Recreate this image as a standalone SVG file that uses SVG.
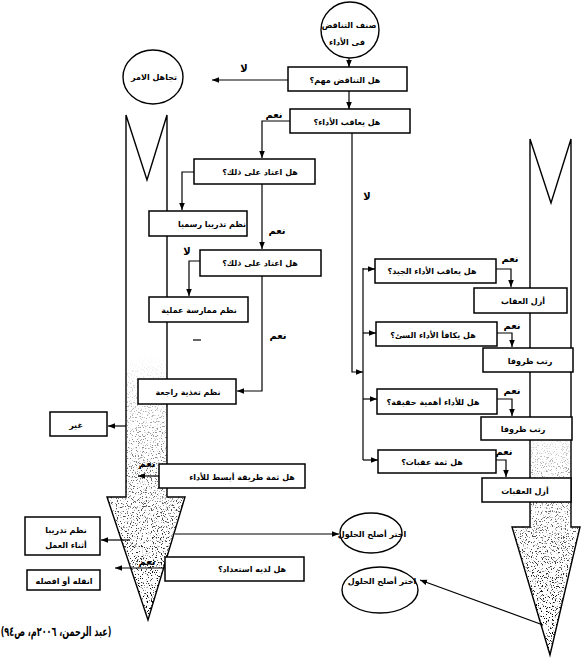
<svg xmlns="http://www.w3.org/2000/svg" width="582" height="659" viewBox="0 0 582 659">
<style>
.t{font-family:"DejaVu Sans",sans-serif;font-size:8px;font-weight:bold;direction:rtl;unicode-bidi:embed;text-anchor:middle;fill:#000}
.lb{font-family:"DejaVu Sans",sans-serif;font-size:10px;font-weight:bold;direction:rtl;unicode-bidi:embed;text-anchor:middle;fill:#000}
.box{fill:#fff;stroke:#000;stroke-width:1.5}
.sh{fill:#fff;stroke:#000;stroke-width:1.4;stroke-linejoin:miter}
.c{fill:none;stroke:#000;stroke-width:1.2}
.ca{fill:none;stroke:#000;stroke-width:1.2;marker-end:url(#ah)}
</style>
<defs>
<marker id="ah" viewBox="0 0 10 10" refX="10" refY="5" markerWidth="7" markerHeight="7" orient="auto" markerUnits="userSpaceOnUse"><path d="M0,1 L10,5 L0,9 Z" fill="#000"/></marker>
<filter id="noise" x="0" y="0" width="1" height="1">
<feTurbulence type="fractalNoise" baseFrequency="0.8" numOctaves="2" seed="7"/>
<feColorMatrix type="matrix" values="0 0 0 0 0  0 0 0 0 0  0 0 0 0 0  10 0 0 0 -5.8"/>
</filter>
<linearGradient id="gL" gradientUnits="userSpaceOnUse" x1="0" y1="355" x2="0" y2="600"><stop offset="0" stop-color="#000"/><stop offset="0.3" stop-color="#666"/><stop offset="1" stop-color="#fff"/></linearGradient>
<linearGradient id="gR" gradientUnits="userSpaceOnUse" x1="0" y1="425" x2="0" y2="620"><stop offset="0" stop-color="#000"/><stop offset="0.3" stop-color="#777"/><stop offset="1" stop-color="#fff"/></linearGradient>
<mask id="mL"><path d="M126,115 L147,180 L167,115 L167,497 L185,497 L148,620 L107,497 L126,497 Z" fill="url(#gL)"/></mask>
<mask id="mR"><path d="M530,139 L551,203 L571,139 L571,527 L580,527 L550,655 L512,527 L530,527 Z" fill="url(#gR)"/></mask>
</defs>
<rect width="582" height="659" fill="#fff"/>

<g id="left-arrow">
<path class="sh" d="M126,115 L147,180 L167,115 L167,497 L185,497 L148,620 L107,497 L126,497 Z"/>
<rect x="100" y="350" width="90" height="275" filter="url(#noise)" mask="url(#mL)"/>
</g>
<g id="right-arrow">
<path class="sh" d="M530,139 L551,203 L571,139 L571,527 L580,527 L550,655 L512,527 L530,527 Z"/>
<rect x="505" y="420" width="80" height="239" filter="url(#noise)" mask="url(#mR)"/>
</g>

<g id="connectors">
<path class="ca" d="M349,58 L349,67"/>
<path class="ca" d="M349,91 L349,109"/>
<path class="ca" d="M288,80 L212,80"/>
<path class="ca" d="M290,121 L262,121 L262,158"/>
<path class="ca" d="M352,133 L352,372 L363,372"/>
<path class="c" d="M363,268 L363,460"/>
<path class="ca" d="M363,269 L375,269"/>
<path class="ca" d="M363,333 L376,333"/>
<path class="ca" d="M363,399 L377,399"/>
<path class="ca" d="M363,460 L378,460"/>
<path class="ca" d="M496,269 L511,269 L511,287"/>
<path class="ca" d="M497,333 L512,333 L512,347"/>
<path class="ca" d="M497,399 L512,399 L512,416"/>
<path class="ca" d="M496,460 L506,460 L506,477"/>
<path class="ca" d="M194,172 L182,172 L182,210"/>
<path class="ca" d="M262,184 L262,249"/>
<path class="ca" d="M200,261 L189,261 L189,296"/>
<path class="ca" d="M262,276 L262,391 L237,391"/>
<path class="ca" d="M126,426 L108,426"/>
<path class="ca" d="M159,476 L138,476"/>
<path class="ca" d="M130,540 L101,540"/>
<path class="ca" d="M175,534 L339,534"/>
<path class="ca" d="M165,568 L115,568"/>
<path class="ca" d="M543,625 L420,580"/>
<path class="c" d="M193,340 L201,340"/>
<text class="lb" x="244" y="72">لا</text>
<text class="lb" x="274" y="118">نعم</text>
<text class="lb" x="367" y="200">لا</text>
<text class="lb" x="277" y="234">نعم</text>
<text class="lb" x="187" y="255">لا</text>
<text class="lb" x="278" y="339">نعم</text>
<text class="lb" x="147" y="467">نعم</text>
<text class="lb" x="147" y="565">نعم</text>
<text class="lb" x="510" y="262">نعم</text>
<text class="lb" x="512" y="329">نعم</text>
<text class="lb" x="512" y="394">نعم</text>
<text class="lb" x="504" y="455">نعم</text>
</g>

<g id="n-start"><ellipse cx="350" cy="30" rx="29" ry="28" fill="#fff" stroke="#000" stroke-width="1.4"/><text class="t" x="349" y="28">صنف التناقض</text><text class="t" x="347" y="45">فى الأداء</text></g>
<g id="n-ignore"><ellipse cx="153" cy="77" rx="30" ry="27" fill="#fff" stroke="#000" stroke-width="1.4"/><text class="t" x="154" y="80">تجاهل الامر</text></g>
<g id="n-important"><rect class="box" x="288" y="67" width="119" height="24"/><text class="t" x="345" y="83">هل التناقض مهم؟</text></g>
<g id="n-punished"><rect class="box" x="290" y="109" width="120" height="24"/><text class="t" x="347" y="125">هل يعاقب الأداء؟</text></g>
<g id="n-used1"><rect class="box" x="194" y="159" width="121" height="25"/><text class="t" x="260" y="175">هل اعتاد على ذلك؟</text></g>
<g id="n-training"><rect class="box" x="149" y="211" width="98" height="25"/><text class="t" x="212" y="227">نظم تدريبا رسميا</text></g>
<g id="n-used2"><rect class="box" x="200" y="250" width="121" height="26"/><text class="t" x="260" y="266">هل اعتاد على ذلك؟</text></g>
<g id="n-practice"><rect class="box" x="149" y="297" width="99" height="25"/><text class="t" x="199" y="313">نظم ممارسة عملية</text></g>
<g id="n-feedback"><rect class="box" x="138" y="379" width="98" height="25"/><text class="t" x="188" y="395">نظم تغذية راجعة</text></g>
<g id="n-change"><rect class="box" x="50" y="412" width="57" height="24"/><text class="t" x="76" y="428">غير</text></g>
<g id="n-simpler"><rect class="box" x="159" y="464" width="146" height="24"/><text class="t" x="242" y="480">هل ثمة طريقة أبسط للأداء</text></g>
<g id="n-ojt"><rect class="box" x="25" y="517" width="75" height="38"/><text class="t" x="66" y="533">نظم تدريبا</text><text class="t" x="66" y="548">أثناء العمل</text></g>
<g id="n-transfer"><rect class="box" x="27" y="570" width="73" height="20"/><text class="t" x="64" y="584">انقله أو افصله</text></g>
<g id="n-ready"><rect class="box" x="165" y="557" width="139" height="24"/><text class="t" x="252" y="572">هل لديه استعداد؟</text></g>
<g id="n-good"><rect class="box" x="375" y="259" width="121" height="24"/><text class="t" x="432" y="274">هل يعاقب الأداء الجيد؟</text></g>
<g id="n-remove"><rect class="box" x="474" y="288" width="93" height="25"/><text class="t" x="523" y="304">أزل العقاب</text></g>
<g id="n-bad"><rect class="box" x="376" y="322" width="121" height="24"/><text class="t" x="433" y="338">هل يكافأ الأداء السئ؟</text></g>
<g id="n-arrange1"><rect class="box" x="483" y="348" width="90" height="24"/><text class="t" x="530" y="364">رتب ظروفا</text></g>
<g id="n-matter"><rect class="box" x="377" y="389" width="120" height="25"/><text class="t" x="433" y="405">هل للأداء أهمية حقيقة؟</text></g>
<g id="n-arrange2"><rect class="box" x="481" y="417" width="91" height="23"/><text class="t" x="523" y="432">رتب ظروفا</text></g>
<g id="n-obstacles"><rect class="box" x="378" y="450" width="118" height="23"/><text class="t" x="432" y="465">هل ثمة عقبات؟</text></g>
<g id="n-remove2"><rect class="box" x="482" y="478" width="89" height="24"/><text class="t" x="525" y="494">أزل العقبات</text></g>
<g id="n-best1"><ellipse cx="371" cy="533" rx="31" ry="20" fill="#fff" stroke="#000" stroke-width="1.4"/><text class="t" x="372" y="537">اختر أصلح الحلول</text></g>
<g id="n-best2"><ellipse cx="380" cy="590" rx="38" ry="23" fill="#fff" stroke="#000" stroke-width="1.4"/><text class="t" x="382" y="584">اختر أصلح الحلول</text></g>
<text transform="translate(56,636) scale(0.62,1)" x="0" y="0" style="font-family:'DejaVu Sans',sans-serif;font-size:13px;font-weight:bold;direction:rtl;unicode-bidi:embed;text-anchor:middle">(عبد الرحمن، ٢٠٠٦م، ص٩٤)</text>
</svg>
